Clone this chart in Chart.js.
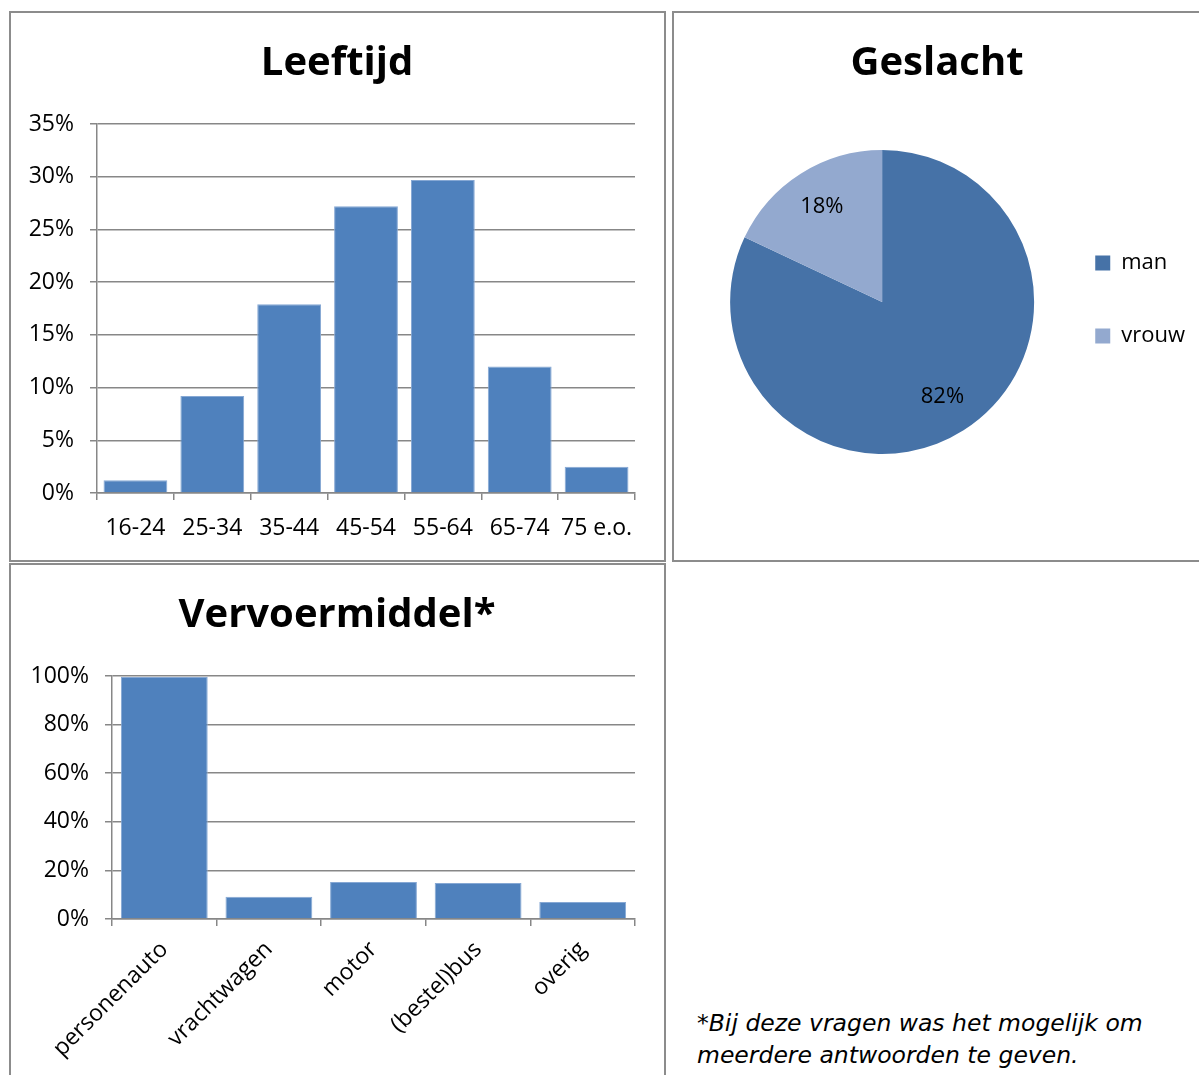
<!DOCTYPE html>
<html><head><meta charset="utf-8">
<script src="https://cdn.jsdelivr.net/npm/chart.js@4.4.0/dist/chart.umd.min.js"></script>
<style>
html,body{margin:0;padding:0;background:#fff}
body{width:1199px;height:1075px;overflow:hidden;position:relative}
.panel{position:absolute;border:2px solid #8c8c8c;box-sizing:border-box;background:#fff}
.cw{position:absolute}
canvas{display:block}
#note{position:absolute;left:697px;top:1007px;font-family:'DejaVu Sans',Verdana,sans-serif;font-style:italic;font-size:23.5px;line-height:32px;color:#000;white-space:nowrap}
</style></head><body>
<div class="panel" style="left:9px;top:11px;width:657px;height:551px"></div>
<div class="panel" style="left:672px;top:11px;width:540px;height:551px"></div>
<div class="panel" style="left:9px;top:563px;width:657px;height:530px"></div>
<div class="cw" style="left:12px;top:14px"><canvas id="c1" width="650" height="544"></canvas></div>
<div class="cw" style="left:675px;top:14px"><canvas id="c2" width="524" height="544"></canvas></div>
<div class="cw" style="left:12px;top:566px"><canvas id="c3" width="650" height="509"></canvas></div>
<div id="note">*Bij deze vragen was het mogelijk om<br>meerdere antwoorden te geven.</div>
<script>
// ---- data ----
const ageLabels = ['16-24', '25-34', '35-44', '45-54', '55-64', '65-74', '75 e.o.'];
const ageValues = [1.2, 9.2, 17.9, 27.2, 29.7, 12.0, 2.5];
const ageTickMax = 35;
const ageTickStep = 5;

const genderLabels = ['man', 'vrouw'];
const genderValues = [82, 18];

const vehicleLabels = ['personenauto', 'vrachtwagen', 'motor', '(bestel)bus', 'overig'];
const vehicleValues = [99.6, 9.2, 15.2, 14.8, 7.0];
const vehicleTickMax = 100;
const vehicleTickStep = 20;

// ---- styling ----
const FONT = "'Open Sans', 'Noto Sans', sans-serif";
const GRID = '#878787';
const BAR = '#4F81BD';
const PIE_COLORS = ['#4672A7', '#93A9CF'];
Chart.defaults.font.family = FONT;
Chart.defaults.color = '#000';
Chart.defaults.animation = false;

function titleOpts(text, bottom) {
  return {display: true, text: text, color: '#000',
    font: {family: FONT, size: 40, weight: 'bold', lineHeight: 1.2},
    padding: {top: 26, bottom: bottom}};
}

function barConfig(labels, values, max, step, yWidth, xHeight, rotate, title) {
  return {
    type: 'bar',
    data: {labels: labels, datasets: [{data: values, backgroundColor: BAR,
      borderColor: '#86a8d4', borderWidth: 1, borderSkipped: 'bottom',
      barPercentage: 0.83, categoryPercentage: 1.0}]},
    options: {
      responsive: false,
      layout: {padding: 0},
      plugins: {legend: {display: false}, tooltip: {enabled: false}, title: titleOpts(title, 36)},
      scales: {
        x: {
          grid: {display: true, drawOnChartArea: false, drawTicks: true, tickLength: 7, color: GRID, lineWidth: 1.5, offset: true},
          border: {display: true, color: GRID, width: 1.5},
          ticks: {color: '#000', font: {size: 23}, padding: rotate ? 10 : 15,
            autoSkip: false, minRotation: rotate ? 45 : 0, maxRotation: rotate ? 45 : 0},
          afterFit: s => { s.height = xHeight; }
        },
        y: {
          min: 0, max: max,
          grid: {color: GRID, lineWidth: 1.5, tickLength: 7, drawTicks: true},
          border: {display: true, color: GRID, width: 1.5},
          ticks: {stepSize: step, color: '#000', font: {size: 23}, padding: 16,
            callback: v => v + '%'},
          afterFit: s => { s.width = yWidth; }
        },
        // empty right-hand margin so the title centres over the whole panel
        yRight: {
          position: 'right', display: true, min: 0, max: max,
          grid: {display: false}, border: {display: false}, ticks: {display: false},
          afterFit: s => { s.width = 27; }
        }
      }
    }
  };
}

new Chart(document.getElementById('c1'),
  barConfig(ageLabels, ageValues, ageTickMax, ageTickStep, 85, 65, false, 'Leeftijd'));

new Chart(document.getElementById('c3'),
  barConfig(vehicleLabels, vehicleValues, vehicleTickMax, vehicleTickStep, 100, 156, true, 'Vervoermiddel*'));

const pieLabelPlugin = {
  id: 'pieLabelPlugin',
  afterDatasetsDraw(chart) {
    const ctx = chart.ctx;
    const meta = chart.getDatasetMeta(0);
    const vals = chart.data.datasets[0].data;
    const total = vals.reduce((a, b) => a + b, 0);
    ctx.save();
    ctx.font = "22px " + FONT;
    ctx.fillStyle = '#000';
    ctx.textAlign = 'center';
    ctx.textBaseline = 'middle';
    meta.data.forEach((arc, i) => {
      const p = arc.getProps(['x', 'y', 'startAngle', 'endAngle', 'outerRadius'], true);
      const mid = (p.startAngle + p.endAngle) / 2;
      const r = p.outerRadius * 0.74;
      ctx.fillText(Math.round(vals[i] / total * 100) + '%', p.x + Math.cos(mid) * r, p.y + Math.sin(mid) * r);
    });
    ctx.restore();
  }
};

new Chart(document.getElementById('c2'), {
  type: 'pie',
  data: {labels: genderLabels, datasets: [{data: genderValues,
    backgroundColor: PIE_COLORS, borderWidth: 0, hoverOffset: 0}]},
  options: {
    responsive: false,
    layout: {padding: {left: 4, right: 4, top: 0, bottom: 104}},
    plugins: {
      title: titleOpts('Geslacht', 62),
      tooltip: {enabled: false},
      legend: {position: 'right', fullSize: false,
        title: {display: true, text: '', padding: 0, font: {size: 30, lineHeight: 1.2}},
        labels: {boxWidth: 15, boxHeight: 15, padding: 10, color: '#000',
          font: {size: 22, lineHeight: 63 / 22},
          generateLabels: chart => {
            const ds = chart.data.datasets[0];
            return chart.data.labels.map((l, i) => ({
              text: [l], fillStyle: ds.backgroundColor[i], strokeStyle: ds.backgroundColor[i],
              lineWidth: 0, hidden: false, index: i, fontColor: '#000'}));
          }}}
    }
  },
  plugins: [pieLabelPlugin]
});
</script>
</body></html>
